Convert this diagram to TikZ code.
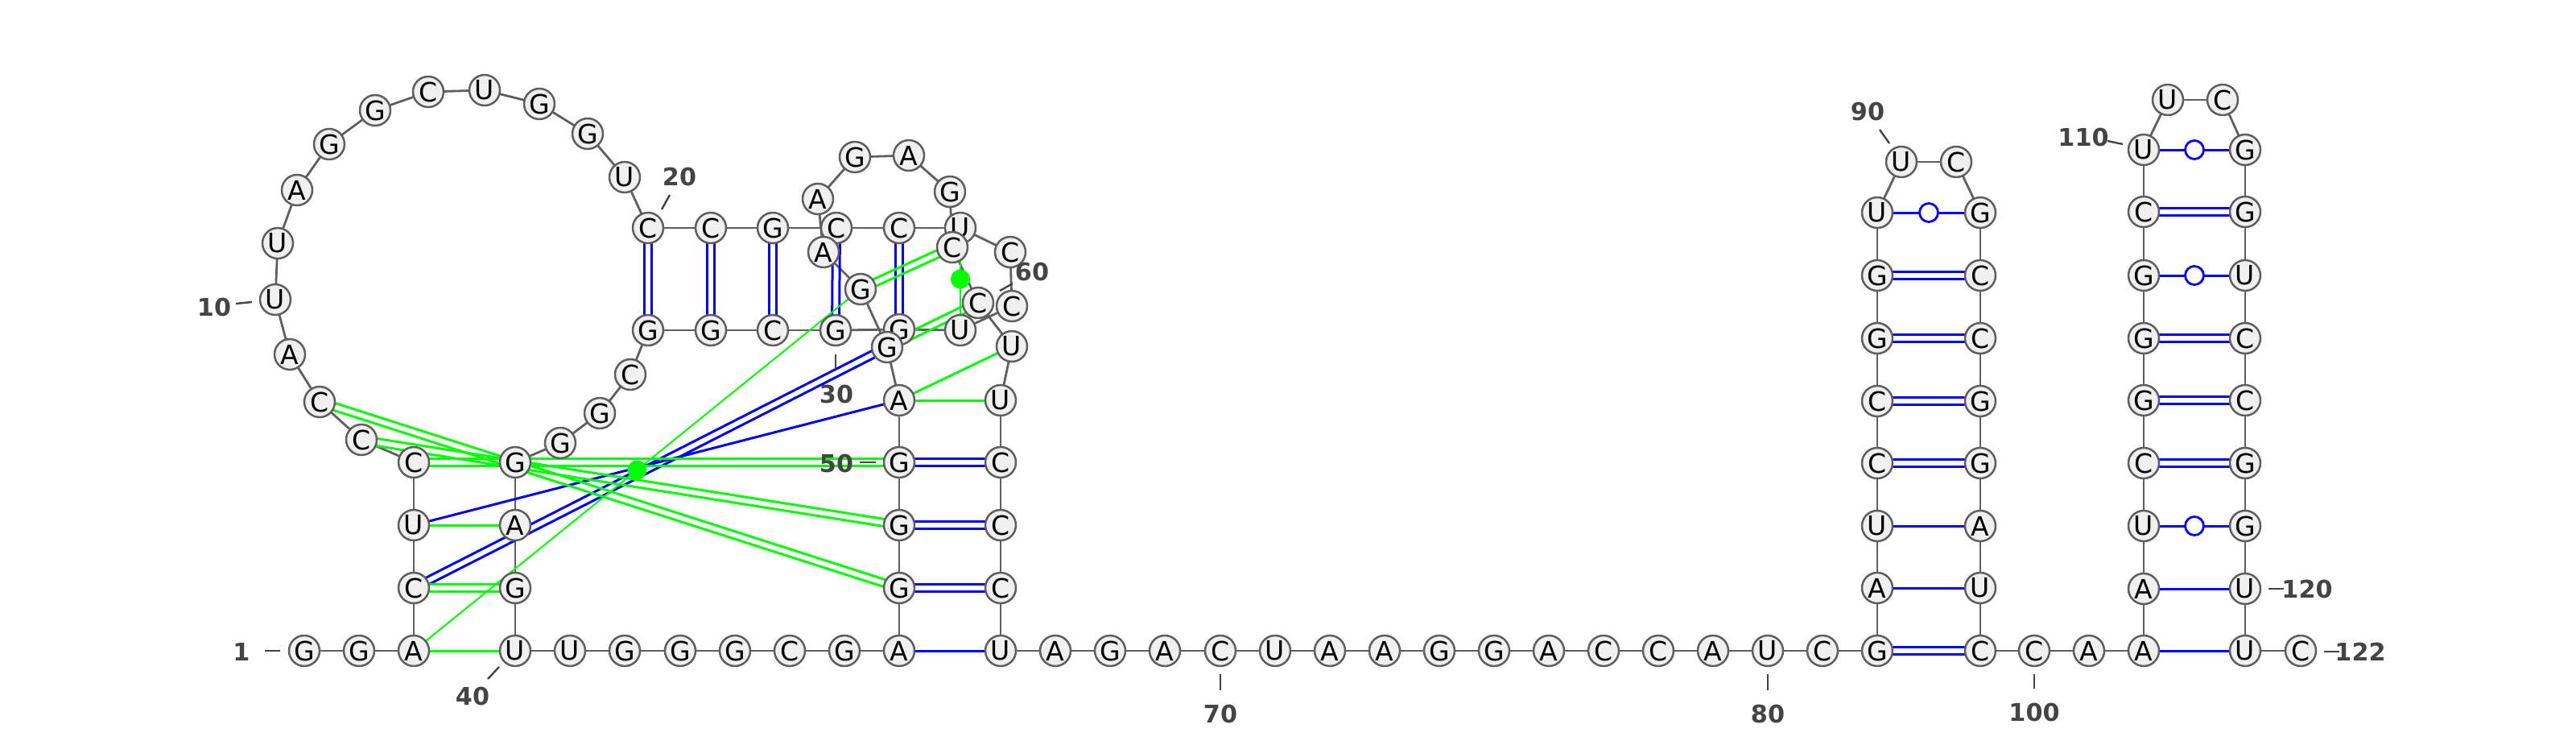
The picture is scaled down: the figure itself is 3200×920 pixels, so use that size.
\documentclass[tikz,border=0pt]{standalone}
\usepackage{fontspec}
\setmainfont{DejaVu Sans}
\usetikzlibrary{calc}
\pgfdeclarelayer{bg}
\pgfsetlayers{bg,main}
\definecolor{bbgray}{HTML}{5F5F5F}
\definecolor{ntfill}{HTML}{F0F0F0}
\definecolor{pkgreen}{RGB}{0,255,0}
\definecolor{pblue}{RGB}{0,0,255}
\definecolor{lblgray}{HTML}{444444}
\newcommand\dblpair[3]{%
  \draw[#1] ($(#2.center)!0.45mm!90:(#3.center)$) -- ($(#3.center)!0.45mm!-90:(#2.center)$);
  \draw[#1] ($(#2.center)!0.45mm!-90:(#3.center)$) -- ($(#3.center)!0.45mm!90:(#2.center)$);}
\tikzset{
  nt/.style={circle, draw=bbgray, fill=ntfill, line width=0.25mm, minimum size=3.8mm, inner sep=0pt, font=\fontsize{9.4}{10}\selectfont},
  bb/.style={draw=bbgray, line width=0.28mm},
  bp/.style={draw=pblue, line width=0.3mm},
  gp/.style={draw=pkgreen, line width=0.3mm},
  gthin/.style={draw=pkgreen, line width=0.2mm},
  wob/.style={circle, draw=pblue, fill=white, line width=0.28mm, minimum size=2.3mm, inner sep=0pt},
  gdot/.style={circle, fill=pkgreen, minimum size=2.4mm, inner sep=0pt},
  lbl/.style={text=lblgray, font=\fontsize{8.6}{10}\selectfont\bfseries, inner sep=0pt},
  tck/.style={draw=lblgray, line width=0.24mm}
}
\begin{document}
\begin{tikzpicture}[x=0.1mm, y=-0.1mm]
\useasboundingbox (0,0) rectangle (3200,920);
\foreach \i/\b/\x/\y in {
1/G/378/808, 2/G/446/808, 3/A/514/808, 4/C/514/730, 5/U/514/652, 6/C/514/574,
7/C/449/546, 8/C/397/499, 9/A/360/440, 10/U/342/372, 11/U/345/302, 12/A/369/236,
13/G/409/179, 14/G/466/137, 15/C/532/114, 16/U/602/112, 17/G/670/129, 18/G/730/166,
19/U/776/220, 20/C/805/283, 21/C/883/283, 22/G/960/283, 23/C/1039/283, 24/C/1117/283,
25/U/1193/283, 26/C/1255/313, 27/C/1257/380, 28/U/1193/410, 29/G/1117/409, 30/G/1038/410,
31/C/960/410, 32/G/883/410, 33/G/805/410, 34/C/783/465, 35/G/745/513, 36/G/696/550,
37/G/640/574, 38/A/640/652, 39/G/640/730, 40/U/640/808, 41/U/708/808, 42/G/776/808,
43/G/845/808, 44/G/913/808, 45/C/981/808, 46/G/1049/808, 47/A/1117/808, 48/G/1117/730,
49/G/1117/652, 50/G/1117/574, 51/A/1117/497, 52/G/1102/431, 53/G/1069/359, 54/A/1023/313,
55/A/1016/247, 56/G/1062/195, 57/A/1129/193, 58/G/1180/238, 59/C/1183/307, 60/C/1215/376,
61/U/1257/430, 62/U/1243/497, 63/C/1243/574, 64/C/1243/652, 65/C/1243/730, 66/U/1243/808,
67/A/1311/808, 68/G/1379/808, 69/A/1447/808, 70/C/1516/808, 71/U/1584/808, 72/A/1652/808,
73/A/1720/808, 74/G/1788/808, 75/G/1856/808, 76/A/1924/808, 77/C/1992/808, 78/C/2060/808,
79/A/2128/808, 80/U/2196/808, 81/C/2264/808, 82/G/2332/808, 83/A/2332/730, 84/U/2332/653,
85/C/2332/575, 86/C/2332/498, 87/G/2332/420, 88/G/2332/342, 89/U/2332/264, 90/U/2362/201,
91/C/2430/201, 92/G/2460/264, 93/C/2460/342, 94/C/2460/420, 95/G/2460/498, 96/G/2460/575,
97/A/2460/653, 98/U/2460/730, 99/C/2460/808, 100/C/2527/808, 101/A/2595/808, 102/A/2663/808,
103/A/2663/731, 104/U/2663/653, 105/C/2663/575, 106/G/2663/497, 107/G/2663/420, 108/G/2663/342,
109/C/2663/263, 110/U/2663/186, 111/U/2693/124, 112/C/2761/124, 113/G/2789/186, 114/G/2789/263,
115/U/2789/342, 116/C/2789/420, 117/C/2789/497, 118/G/2789/575, 119/G/2789/653, 120/U/2789/731,
121/U/2789/808, 122/C/2858/808}
  \node[nt] (n\i) at (\x,\y) {\b};
\begin{pgfonlayer}{bg}
  % backbone
  \foreach \i [evaluate=\i as \j using int(\i+1)] in {1,...,121}
    \draw[bb] (n\i.center) -- (n\j.center);
  % blue secondary structure
  \foreach \a/\b in {20/33, 21/32, 22/31, 23/30, 24/29, 48/65, 49/64, 50/63, 4/52,
      82/99, 85/96, 86/95, 87/94, 88/93, 105/118, 106/117, 107/116, 109/114}
    {\dblpair{bp}{n\a}{n\b}}
  \foreach \a/\b in {47/66, 5/51, 83/98, 84/97, 102/121, 103/120, 89/92, 104/119, 108/115, 110/113}
    \draw[bp] (n\a.center) -- (n\b.center);
  % green alternative pairs
  \foreach \a/\b in {4/39, 6/50, 7/49, 8/48, 59/53, 60/52}
    {\dblpair{gp}{n\a}{n\b}}
  \foreach \a/\b in {3/40, 5/38, 61/51, 62/51}
    \draw[gp] (n\a.center) -- (n\b.center);
  \draw[gthin] (n3.center) -- (n53.center);
  \draw[gthin] (n25.center) -- (n28.center);
\end{pgfonlayer}
% wobble pairs
\foreach \a/\b in {89/92, 104/119, 108/115, 110/113}
  \node[wob] (w\a) at ($(n\a)!0.5!(n\b)$) {};
\node[gdot] (d3) at ($(n3)!0.5!(n53)$) {};
\node[gdot] (d25) at ($(n25)!0.5!(n28)$) {};
% numbering
\foreach \t/\x/\y/\ax/\ay/\bx/\by in {
  1/300/809/329/808/348/808,
  10/266/381/293/377/313/375,
  20/844/219/822/260/832/242,
  30/1039/489/1038/440/1038/458,
  40/587/864/606/843/620/828,
  50/1039/575/1068/574/1088/574,
  60/1282/337/1242/361/1258/352,
  70/1516/886/1516/837/1516/857,
  80/2196/886/2196/837/2196/857,
  90/2320/138/2335/161/2347/178,
  100/2527/884/2527/837/2527/855,
  110/2588/170/2618/175/2637/179,
  120/2866/731/2818/731/2837/731,
  122/2932/809/2887/809/2906/809}
{
  \node[lbl] (L\t) at (\x,\y) {\t};
  \coordinate (Ta\t) at (\ax,\ay);
  \coordinate (Tb\t) at (\bx,\by);
  \draw[tck] (Ta\t) -- (Tb\t);
}
\end{tikzpicture}
\end{document}
